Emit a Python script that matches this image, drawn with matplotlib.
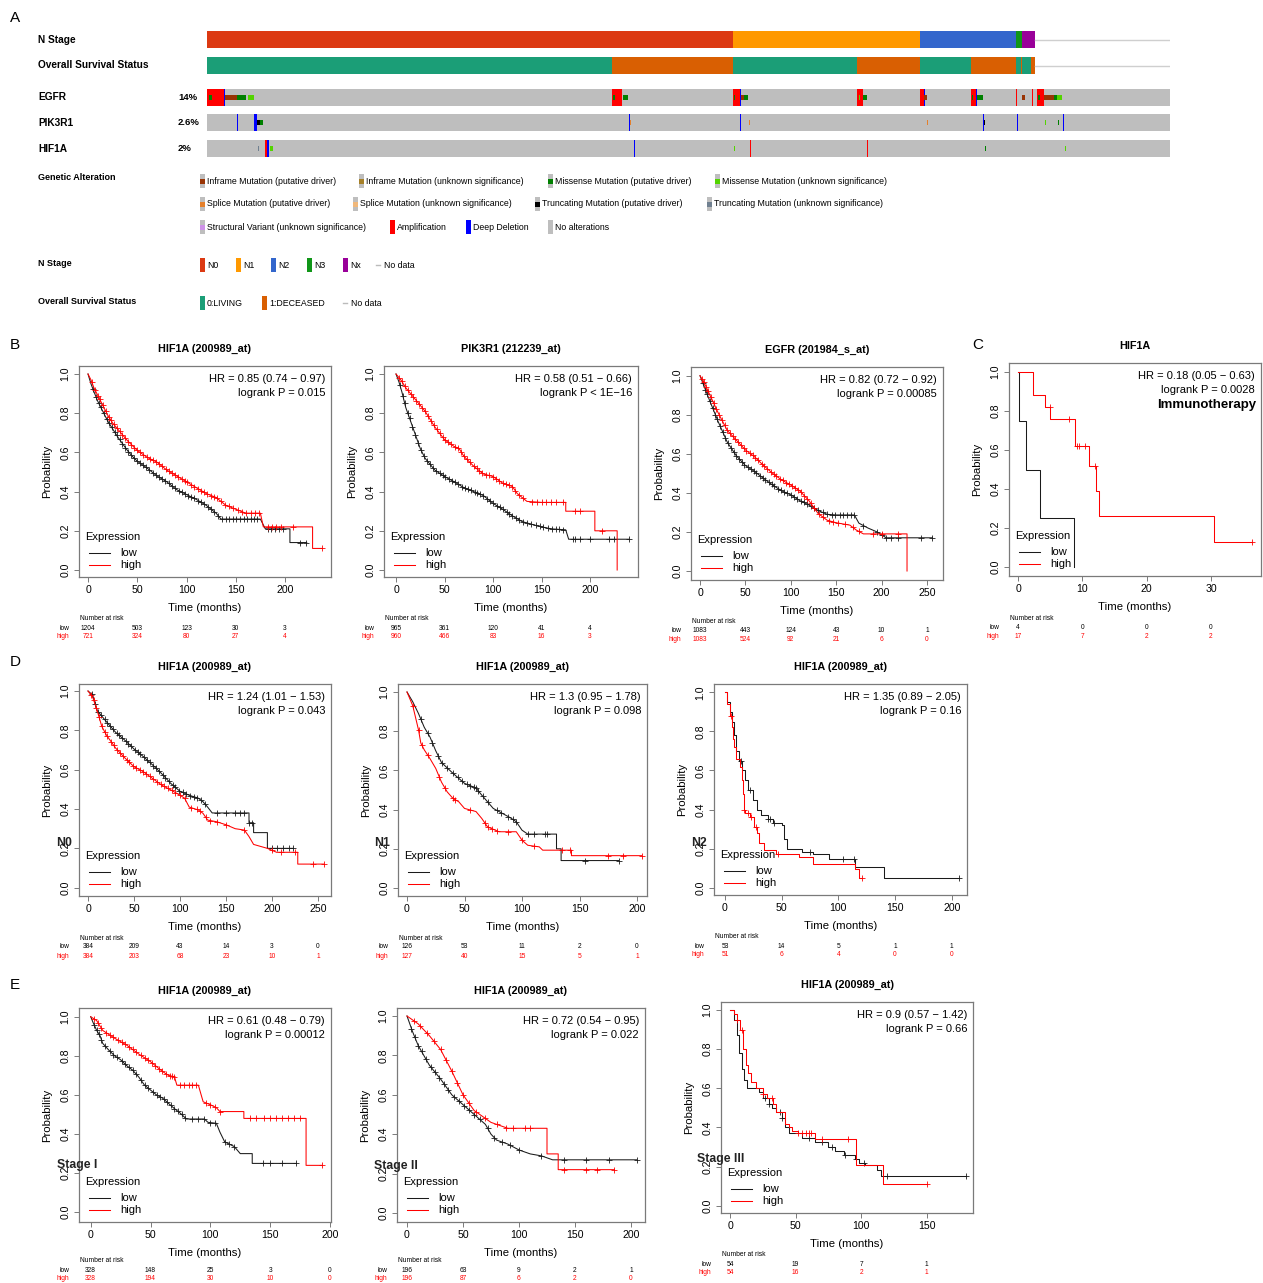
import numpy as np
import matplotlib
matplotlib.use("Agg")
import matplotlib.pyplot as plt
import matplotlib.transforms as mtransforms
from matplotlib.patches import Rectangle

plt.rcParams["font.family"] = ["Liberation Sans", "DejaVu Sans"]

W, H = 1263, 1283

# ---------------- panel A: oncoprint data ----------------
n_samples = 963
n_stage_labels = ["N0", "N1", "N2", "N3", "Nx"]
n_stage_counts = [526, 187, 96, 6, 13]
n_stage_colors = ["#dc3912", "#ff9900", "#3366cc", "#109618", "#990099"]

os_labels = ["0:LIVING", "1:DECEASED"]
os_colors = ["#1b9e77", "#d95f02"]
os_runs = [0, 1, 0, 1, 0, 1, 0, 1, 0, 1]
os_run_counts = [405, 121, 124, 63, 51, 45, 5, 1, 9, 4]

genes = ["EGFR", "PIK3R1", "HIF1A"]
gene_pct = ["14%", "2.6%", "2%"]
# (first sample column, number of columns)
amp_cols = {
    "EGFR": [(0, 17), (405, 10), (526, 7), (650, 6), (713, 4), (764, 5), (809, 1), (825, 1), (830, 7)],
    "PIK3R1": [],
    "HIF1A": [(58, 2), (543, 1), (660, 1)],
}
del_cols = {
    "EGFR": [(17, 1), (533, 1), (717, 1), (769, 1)],
    "PIK3R1": [(30, 1), (47, 3), (422, 1), (533, 1), (776, 1), (810, 1), (856, 1)],
    "HIF1A": [(60, 2), (427, 1)],
}
mut_cols = {
    "EGFR": [(2, 3, "mis_d"), (18, 12, "inf_d"), (30, 9, "mis_d"), (41, 6, "mis_u"),
             (406, 2, "mis_d"), (416, 5, "mis_d"), (527, 1, "mis_d"), (534, 3, "inf_d"),
             (537, 4, "mis_d"), (652, 1, "mis_u"), (656, 4, "mis_d"), (717, 3, "inf_d"),
             (765, 1, "mis_d"), (770, 6, "mis_d"), (815, 3, "inf_d"), (831, 2, "mis_d"),
             (837, 10, "inf_d"), (847, 3, "mis_d"), (850, 5, "mis_u")],
    "PIK3R1": [(50, 3, "trc_d"), (53, 3, "mis_d"), (423, 1, "spl_d"), (542, 1, "spl_d"),
               (720, 1, "spl_d"), (777, 1, "trc_d"), (838, 1, "mis_u"), (851, 1, "mis_d")],
    "HIF1A": [(51, 1, "trc_u"), (63, 3, "mis_u"), (527, 1, "mis_u"), (778, 1, "mis_d"), (858, 1, "mis_u")],
}
alt_colors = {"inf_d": "#993404", "inf_u": "#a68028", "mis_d": "#008000", "mis_u": "#53d400",
              "spl_d": "#e5802b", "spl_u": "#f0b87b", "trc_d": "#000000", "trc_u": "#708090",
              "sv": "#ce92e8", "amp": "#ff0000", "del": "#0000ff", "none": "#bebebe"}

ga_legend = [
    [("inf_d", "Inframe Mutation (putative driver)"), ("inf_u", "Inframe Mutation (unknown significance)"),
     ("mis_d", "Missense Mutation (putative driver)"), ("mis_u", "Missense Mutation (unknown significance)")],
    [("spl_d", "Splice Mutation (putative driver)"), ("spl_u", "Splice Mutation (unknown significance)"),
     ("trc_d", "Truncating Mutation (putative driver)"), ("trc_u", "Truncating Mutation (unknown significance)")],
    [("sv", "Structural Variant (unknown significance)"), ("amp", "Amplification"),
     ("del", "Deep Deletion"), ("none", "No alterations")],
]

# ---------------- KM data (time in months, survival probability) ----------------
b1_low_t = [0, 3, 6, 10, 15, 20, 25, 30, 35, 40, 45, 50, 60, 70, 80, 90, 100, 110, 120, 130, 135, 175, 177, 180, 205, 205, 222]
b1_low_s = [1, 0.95, 0.91, 0.86, 0.81, 0.76, 0.72, 0.68, 0.645, 0.61, 0.58, 0.555, 0.52, 0.48, 0.45, 0.41, 0.385, 0.36, 0.33, 0.29, 0.26, 0.26, 0.24, 0.21, 0.21, 0.14, 0.14]
b1_low_c = [5, 8, 11, 13, 16, 19, 21, 24, 27, 29, 32, 35, 38, 41, 44, 47, 50, 53, 56, 59, 62, 66, 69, 72, 75, 78,
            82, 85, 88, 92, 95, 98, 102, 105, 108, 112, 115, 118, 122, 125, 128, 132, 136, 140, 143, 147, 150,
            154, 158, 161, 165, 169, 172, 183, 186, 190, 194, 198, 215, 221]
b1_high_t = [0, 3, 6, 10, 15, 20, 25, 30, 40, 50, 60, 70, 80, 90, 100, 110, 120, 130, 140, 150, 160, 175, 178, 228, 228, 238]
b1_high_s = [1, 0.97, 0.93, 0.89, 0.84, 0.79, 0.75, 0.72, 0.66, 0.61, 0.575, 0.55, 0.51, 0.48, 0.45, 0.42, 0.39, 0.37, 0.33, 0.31, 0.29, 0.29, 0.22, 0.22, 0.11, 0.11]
b1_high_c = [4, 7, 10, 12, 15, 18, 21, 23, 26, 29, 32, 35, 38, 41, 44, 47, 50, 53, 56, 60, 63, 66, 69, 72, 75,
             79, 82, 85, 88, 91, 95, 98, 101, 105, 108, 112, 115, 118, 121, 125, 128, 131, 135, 139, 143, 147,
             152, 156, 160, 165, 170, 174, 183, 187, 191, 196, 208, 238]

b2_low_t = [0, 3, 6, 10, 15, 20, 25, 30, 40, 50, 60, 70, 80, 90, 100, 110, 120, 130, 140, 150, 160, 175, 178, 240]
b2_low_s = [1, 0.96, 0.91, 0.83, 0.76, 0.69, 0.62, 0.57, 0.51, 0.477, 0.45, 0.42, 0.40, 0.38, 0.34, 0.31, 0.276, 0.247, 0.233, 0.22, 0.21, 0.205, 0.157, 0.157]
b2_low_c = [4, 7, 9, 12, 14, 17, 20, 23, 26, 29, 32, 35, 38, 41, 45, 48, 51, 55, 58, 61, 64, 68, 71, 74, 77, 81,
            84, 87, 90, 94, 97, 100, 104, 107, 110, 114, 117, 120, 124, 127, 131, 135, 139, 144, 148, 152, 157,
            161, 165, 168, 172, 182, 185, 190, 200, 220, 225, 240]
b2_high_t = [0, 5, 10, 20, 30, 40, 50, 60, 65, 70, 80, 90, 100, 110, 120, 125, 135, 150, 175, 175, 205, 205, 228, 228]
b2_high_s = [1, 0.97, 0.93, 0.87, 0.81, 0.73, 0.665, 0.63, 0.62, 0.58, 0.53, 0.49, 0.477, 0.443, 0.426, 0.39, 0.35, 0.345, 0.345, 0.30, 0.30, 0.20, 0.20, 0.0]
b2_high_c = [3, 6, 9, 12, 15, 18, 21, 24, 27, 30, 33, 36, 39, 42, 45, 48, 51, 54, 57, 61, 64, 67, 70, 73, 76, 80,
             83, 86, 89, 93, 96, 100, 103, 106, 110, 113, 116, 120, 123, 127, 131, 140, 145, 150, 155, 160, 165,
             172, 185, 190, 212]

b3_low_t = [0, 5, 10, 20, 30, 40, 50, 60, 70, 80, 90, 100, 110, 120, 130, 140, 150, 170, 175, 185, 195, 205, 256]
b3_low_s = [1, 0.94, 0.88, 0.765, 0.66, 0.59, 0.54, 0.51, 0.474, 0.44, 0.41, 0.39, 0.36, 0.338, 0.31, 0.29, 0.287, 0.287, 0.245, 0.22, 0.20, 0.17, 0.17]
b3_low_c = [3, 6, 8, 11, 14, 17, 19, 22, 25, 28, 31, 34, 37, 40, 43, 46, 49, 53, 56, 59, 62, 66, 69, 72, 76, 79,
            82, 86, 89, 93, 96, 100, 103, 107, 111, 114, 118, 122, 126, 130, 135, 140, 145, 149, 154, 158, 162,
            166, 170, 180, 195, 200, 205, 210, 218, 243, 256]
b3_high_t = [0, 5, 10, 20, 30, 40, 50, 60, 70, 80, 90, 100, 110, 120, 130, 140, 150, 165, 172, 180, 228, 228]
b3_high_s = [1, 0.96, 0.91, 0.81, 0.72, 0.67, 0.62, 0.585, 0.54, 0.50, 0.466, 0.44, 0.41, 0.36, 0.295, 0.26, 0.247, 0.235, 0.21, 0.19, 0.19, 0.0]
b3_high_c = [2, 4, 7, 9, 12, 15, 18, 21, 24, 27, 30, 33, 36, 39, 42, 45, 48, 51, 55, 58, 61, 64, 68, 71, 74, 78,
             81, 84, 88, 91, 95, 98, 101, 105, 108, 111, 115, 118, 122, 126, 131, 136, 142, 147, 152, 160, 168,
             175, 190, 200, 218]

c_low_t = [0, 0.2, 1.3, 3.4, 8.7]
c_low_s = [1, 0.75, 0.5, 0.25, 0.0]
c_low_c = []
c_high_t = [0, 2.3, 4.2, 5.0, 8.8, 11.0, 12.2, 12.6, 30.5, 36.3]
c_high_s = [1, 0.88, 0.82, 0.76, 0.62, 0.52, 0.39, 0.26, 0.13, 0.13]
c_high_c = [4.9, 7.9, 9.2, 9.5, 10.4, 12.0, 36.3]

d1_low_t = [0, 5, 10, 20, 30, 40, 50, 60, 70, 80, 90, 100, 110, 120, 125, 130, 135, 175, 175, 180, 180, 195, 195, 223]
d1_low_s = [1, 0.98, 0.90, 0.844, 0.79, 0.75, 0.705, 0.667, 0.625, 0.58, 0.53, 0.49, 0.47, 0.455, 0.437, 0.41, 0.38, 0.38, 0.33, 0.33, 0.28, 0.28, 0.20, 0.20]
d1_low_c = [4, 8, 11, 14, 18, 21, 24, 27, 31, 34, 37, 41, 44, 47, 51, 54, 57, 61, 64, 67, 71, 74, 77, 81, 84, 88,
            92, 95, 99, 103, 107, 111, 115, 119, 123, 127, 140, 150, 160, 165, 170, 175, 178, 200, 205, 212, 218, 223]
d1_high_t = [0, 5, 10, 15, 20, 30, 40, 50, 60, 70, 80, 90, 100, 105, 110, 120, 125, 130, 140, 150, 160, 170, 175, 180, 195, 205, 228, 228, 256]
d1_high_s = [1, 0.97, 0.90, 0.82, 0.776, 0.71, 0.66, 0.615, 0.59, 0.556, 0.522, 0.497, 0.47, 0.455, 0.41, 0.395, 0.378, 0.344, 0.335, 0.32, 0.30, 0.293, 0.26, 0.22, 0.20, 0.18, 0.18, 0.12, 0.12]
d1_high_c = [3, 6, 9, 12, 15, 18, 21, 25, 28, 32, 35, 38, 42, 45, 49, 52, 56, 60, 63, 67, 71, 75, 79, 83, 87, 91,
             95, 100, 105, 112, 118, 122, 128, 133, 140, 150, 170, 200, 210, 225, 245, 256]

d2_low_t = [0, 5, 10, 15, 20, 25, 30, 40, 50, 60, 65, 70, 75, 80, 90, 95, 100, 105, 130, 130, 134, 134, 184]
d2_low_s = [1, 0.95, 0.89, 0.82, 0.77, 0.70, 0.64, 0.585, 0.534, 0.51, 0.474, 0.44, 0.406, 0.39, 0.358, 0.338, 0.295, 0.275, 0.275, 0.2, 0.2, 0.14, 0.14]
d2_low_c = [12, 18, 22, 27, 30, 35, 40, 44, 48, 52, 55, 58, 60, 62, 66, 70, 78, 82, 88, 92, 95, 105, 110, 120, 122, 155, 184]
d2_high_t = [0, 5, 10, 12, 15, 20, 25, 30, 35, 40, 45, 50, 60, 65, 70, 80, 95, 100, 105, 115, 118, 143, 143, 204]
d2_high_s = [1, 0.93, 0.807, 0.74, 0.705, 0.66, 0.61, 0.54, 0.49, 0.457, 0.44, 0.406, 0.39, 0.355, 0.312, 0.287, 0.287, 0.244, 0.218, 0.21, 0.193, 0.193, 0.165, 0.165]
d2_high_c = [5, 10, 13, 18, 28, 33, 40, 42, 55, 68, 70, 74, 78, 88, 100, 110, 135, 142, 175, 188, 204]

d3_low_t = [0, 2, 4, 6, 8, 10, 12, 15, 18, 20, 25, 28, 32, 38, 42, 50, 52, 55, 68, 78, 92, 115, 140, 206]
d3_low_s = [1, 0.95, 0.90, 0.85, 0.78, 0.70, 0.65, 0.60, 0.55, 0.50, 0.45, 0.40, 0.37, 0.35, 0.33, 0.32, 0.25, 0.20, 0.185, 0.17, 0.145, 0.105, 0.05, 0.05]
d3_low_c = [14, 22, 38, 40, 43, 75, 104, 114, 206]
d3_high_t = [0, 2, 4, 6, 7, 8, 10, 13, 15, 16, 17, 18, 22, 26, 28, 30, 34, 45, 65, 78, 115, 118, 121]
d3_high_s = [1, 0.94, 0.88, 0.82, 0.76, 0.72, 0.66, 0.62, 0.55, 0.48, 0.40, 0.38, 0.36, 0.31, 0.28, 0.23, 0.195, 0.175, 0.155, 0.12, 0.095, 0.05, 0.05]
d3_high_c = [5, 17, 20, 23, 27, 47, 121]

e1_low_t = [0, 2, 5, 8, 10, 15, 20, 25, 30, 35, 40, 45, 50, 55, 60, 65, 70, 75, 80, 95, 98, 105, 108, 112, 120, 125, 135, 135, 172]
e1_low_s = [1, 0.97, 0.93, 0.90, 0.864, 0.83, 0.80, 0.78, 0.75, 0.727, 0.693, 0.65, 0.625, 0.60, 0.584, 0.557, 0.53, 0.506, 0.477, 0.477, 0.46, 0.455, 0.41, 0.36, 0.336, 0.30, 0.30, 0.25, 0.25]
e1_low_c = [3, 5, 7, 9, 12, 16, 19, 22, 26, 29, 32, 35, 38, 42, 45, 48, 52, 55, 58, 61, 64, 67, 70, 73, 76, 79,
            85, 90, 95, 100, 104, 112, 116, 120, 144, 150, 160, 172]
e1_high_t = [0, 5, 10, 20, 30, 40, 50, 55, 60, 65, 70, 72, 90, 92, 94, 100, 105, 108, 128, 128, 180, 180, 193]
e1_high_s = [1, 0.98, 0.93, 0.89, 0.855, 0.81, 0.77, 0.745, 0.72, 0.70, 0.693, 0.65, 0.65, 0.607, 0.565, 0.55, 0.535, 0.515, 0.515, 0.48, 0.48, 0.24, 0.24]
e1_high_c = [3, 6, 9, 13, 16, 19, 23, 26, 29, 32, 35, 38, 42, 45, 48, 51, 54, 57, 60, 63, 66, 68, 70, 75, 78,
             82, 85, 88, 96, 100, 104, 108, 133, 138, 145, 150, 155, 160, 165, 170, 175, 193]

e2_low_t = [0, 5, 10, 15, 20, 30, 40, 50, 60, 70, 75, 80, 90, 100, 110, 120, 130, 205]
e2_low_s = [1, 0.92, 0.85, 0.80, 0.75, 0.68, 0.60, 0.55, 0.50, 0.45, 0.40, 0.37, 0.35, 0.32, 0.30, 0.29, 0.27, 0.27]
e2_low_c = [4, 7, 10, 13, 17, 21, 25, 29, 33, 37, 42, 46, 51, 55, 60, 65, 72, 78, 85, 92, 100, 120, 140, 160, 180, 205]
e2_high_t = [0, 5, 10, 20, 30, 40, 50, 60, 70, 75, 90, 100, 125, 125, 135, 135, 185]
e2_high_s = [1, 0.98, 0.96, 0.90, 0.83, 0.72, 0.60, 0.52, 0.48, 0.46, 0.43, 0.43, 0.43, 0.30, 0.30, 0.22, 0.22]
e2_high_c = [6, 12, 18, 24, 30, 35, 40, 45, 50, 55, 62, 70, 80, 88, 95, 105, 110, 140, 160, 170, 185]

e3_low_t = [0, 3, 5, 7, 9, 11, 13, 22, 25, 30, 32, 35, 40, 42, 45, 55, 65, 75, 80, 87, 95, 98, 103, 112, 115, 180]
e3_low_s = [1, 0.95, 0.87, 0.78, 0.70, 0.64, 0.60, 0.58, 0.55, 0.52, 0.50, 0.48, 0.45, 0.40, 0.37, 0.345, 0.325, 0.30, 0.28, 0.26, 0.24, 0.22, 0.21, 0.18, 0.15, 0.15]
e3_low_c = [27, 30, 38, 40, 60, 70, 78, 88, 96, 102, 120, 180]
e3_high_t = [0, 3, 5, 8, 10, 12, 14, 16, 20, 25, 28, 33, 35, 42, 45, 47, 52, 65, 96, 117, 150]
e3_high_s = [1, 0.98, 0.95, 0.90, 0.80, 0.72, 0.68, 0.63, 0.60, 0.57, 0.55, 0.52, 0.48, 0.42, 0.40, 0.38, 0.37, 0.34, 0.21, 0.11, 0.11]
e3_high_c = [5, 9, 25, 32, 52, 55, 58, 60, 62, 70, 90, 150]

panels = [
    dict(letter=("B", 10, 345), box=(79, 366, 331, 577), xmap=((0, 88), (200, 285)), ymap=(570, 374),
         xticks=[0, 50, 100, 150, 200], title="HIF1A (200989_at)",
         hr=["HR = 0.85 (0.74 \u2212 0.97)", "logrank P = 0.015"],
         low=(b1_low_t, b1_low_s, b1_low_c), high=(b1_high_t, b1_high_s, b1_high_c), step=False,
         risk_low=[1204, 503, 123, 30, 3], risk_high=[721, 324, 80, 27, 4]),
    dict(box=(384, 366, 638, 577), xmap=((0, 396), (200, 590)), ymap=(570, 374),
         xticks=[0, 50, 100, 150, 200], title="PIK3R1 (212239_at)",
         hr=["HR = 0.58 (0.51 \u2212 0.66)", "logrank P < 1E\u221216"],
         low=(b2_low_t, b2_low_s, b2_low_c), high=(b2_high_t, b2_high_s, b2_high_c), step=False,
         risk_low=[965, 361, 120, 41, 4], risk_high=[960, 466, 83, 16, 3]),
    dict(box=(691, 367, 943, 580), xmap=((0, 700), (250, 927)), ymap=(571, 375.7),
         xticks=[0, 50, 100, 150, 200, 250], title="EGFR (201984_s_at)",
         hr=["HR = 0.82 (0.72 \u2212 0.92)", "logrank P = 0.00085"],
         low=(b3_low_t, b3_low_s, b3_low_c), high=(b3_high_t, b3_high_s, b3_high_c), step=False,
         risk_low=[1083, 443, 124, 43, 10, 1], risk_high=[1083, 524, 92, 21, 6, 0]),
    dict(letter=("C", 972, 345), box=(1009, 363, 1261, 576), xmap=((0, 1018), (30, 1211)), ymap=(567.3, 371.7),
         xticks=[0, 10, 20, 30], title="HIF1A",
         hr=["HR = 0.18 (0.05 \u2212 0.63)", "logrank P = 0.0028"], extra="Immunotherapy",
         low=(c_low_t, c_low_s, c_low_c), high=(c_high_t, c_high_s, c_high_c), step=True,
         risk_low=[4, 0, 0, 0], risk_high=[17, 7, 2, 2]),
    dict(letter=("D", 10, 662), box=(79, 684, 331, 896), xmap=((0, 88), (250, 318)), ymap=(887.7, 691),
         xticks=[0, 50, 100, 150, 200, 250], title="HIF1A (200989_at)",
         hr=["HR = 1.24 (1.01 \u2212 1.53)", "logrank P = 0.043"], overlay=("N0", 56, 843),
         low=(d1_low_t, d1_low_s, d1_low_c), high=(d1_high_t, d1_high_s, d1_high_c), step=False,
         risk_low=[384, 209, 43, 14, 3, 0], risk_high=[384, 203, 68, 23, 10, 1]),
    dict(box=(398, 684, 647, 896), xmap=((0, 407), (200, 637)), ymap=(888, 692),
         xticks=[0, 50, 100, 150, 200], title="HIF1A (200989_at)",
         hr=["HR = 1.3 (0.95 \u2212 1.78)", "logrank P = 0.098"], overlay=("N1", 374, 843),
         low=(d2_low_t, d2_low_s, d2_low_c), high=(d2_high_t, d2_high_s, d2_high_c), step=False,
         risk_low=[126, 53, 11, 2, 0], risk_high=[127, 40, 15, 5, 1]),
    dict(box=(714, 684, 967, 895), xmap=((0, 725), (200, 951.7)), ymap=(887.7, 692.3),
         xticks=[0, 50, 100, 150, 200], title="HIF1A (200989_at)",
         hr=["HR = 1.35 (0.89 \u2212 2.05)", "logrank P = 0.16"], overlay=("N2", 691, 843),
         low=(d3_low_t, d3_low_s, d3_low_c), high=(d3_high_t, d3_high_s, d3_high_c), step=True,
         risk_low=[53, 14, 5, 1, 1], risk_high=[51, 6, 4, 0, 0]),
    dict(letter=("E", 10, 985), box=(79, 1008, 331, 1222), xmap=((0, 90.7), (200, 330)), ymap=(1212.3, 1016.7),
         xticks=[0, 50, 100, 150, 200], title="HIF1A (200989_at)",
         hr=["HR = 0.61 (0.48 \u2212 0.79)", "logrank P = 0.00012"], overlay=("Stage I", 57, 1165),
         low=(e1_low_t, e1_low_s, e1_low_c), high=(e1_high_t, e1_high_s, e1_high_c), step=False,
         risk_low=[328, 148, 25, 3, 0], risk_high=[328, 194, 30, 10, 0], risk_off=(39, 48, 57)),
    dict(box=(397, 1008, 645, 1222), xmap=((0, 407), (200, 631)), ymap=(1213, 1016),
         xticks=[0, 50, 100, 150, 200], title="HIF1A (200989_at)",
         hr=["HR = 0.72 (0.54 \u2212 0.95)", "logrank P = 0.022"], overlay=("Stage II", 374, 1166),
         low=(e2_low_t, e2_low_s, e2_low_c), high=(e2_high_t, e2_high_s, e2_high_c), step=False,
         risk_low=[196, 63, 9, 2, 1], risk_high=[196, 87, 6, 2, 0], risk_off=(39, 48, 57)),
    dict(box=(721, 1002, 973, 1213), xmap=((0, 730), (150, 926.7)), ymap=(1205.7, 1010),
         xticks=[0, 50, 100, 150], title="HIF1A (200989_at)",
         hr=["HR = 0.9 (0.57 \u2212 1.42)", "logrank P = 0.66"], overlay=("Stage III", 697, 1159),
         low=(e3_low_t, e3_low_s, e3_low_c), high=(e3_high_t, e3_high_s, e3_high_c), step=True,
         risk_low=[54, 19, 7, 1], risk_high=[54, 16, 2, 1]),
]

LOW_COL, HIGH_COL, FRAME = "#1a1a1a", "#ff0000", "#7a7a7a"

fig = plt.figure(figsize=(W / 100, H / 100), dpi=100)

# overlay axes in pixel coordinates for panel-A labels/legends and free text
axP = fig.add_axes([0, 0, 1, 1], zorder=5)
axP.set_xlim(0, W)
axP.set_ylim(H, 0)
axP.axis("off")
axP.patch.set_alpha(0)

# ---------------- panel A ----------------
axA = fig.add_axes([207 / W, 1 - 160 / H, n_samples / W, (160 - 28) / H])
axA.set_xlim(0, n_samples)
axA.set_ylim(160, 28)
axA.axis("off")

TR_H = 17
clin_tops = [31, 57]
gene_tops = [89, 114, 140]

x0 = 0
for cnt, col in zip(n_stage_counts, n_stage_colors):
    axA.broken_barh([(x0, cnt)], (clin_tops[0], TR_H), color=col, lw=0)
    x0 += cnt
n_with_data = x0
axA.plot([n_with_data, n_samples], [clin_tops[0] + TR_H / 2] * 2, color="#cfcfcf", lw=1)
x0 = 0
for run, cnt in zip(os_runs, os_run_counts):
    axA.broken_barh([(x0, cnt)], (clin_tops[1], TR_H), color=os_colors[run], lw=0)
    x0 += cnt
axA.plot([x0, n_samples], [clin_tops[1] + TR_H / 2] * 2, color="#cfcfcf", lw=1)

for g, top in zip(genes, gene_tops):
    axA.broken_barh([(0, n_samples)], (top, TR_H), color=alt_colors["none"], lw=0)
    axA.broken_barh(amp_cols[g], (top, TR_H), color=alt_colors["amp"], lw=0)
    axA.broken_barh(del_cols[g], (top, TR_H), color=alt_colors["del"], lw=0)
    for s0, wd, kind in mut_cols[g]:
        axA.broken_barh([(s0, wd)], (top + TR_H / 3, TR_H / 3), color=alt_colors[kind], lw=0)

axP.text(10, 18, "A", fontsize=11, va="center")
lab_kw = dict(fontsize=7.3, fontweight="bold", va="center")
axP.text(38, 40, "N Stage", **lab_kw)
axP.text(38, 65, "Overall Survival Status", **lab_kw)
for g, pct, top in zip(genes, gene_pct, gene_tops):
    axP.text(38, top + 8.5, g, **lab_kw)
    axP.text(178, top + 8.5, pct, fontsize=6.8, fontweight="bold", va="center")

# genetic alteration legend
axP.text(38, 178, "Genetic Alteration", fontsize=6.5, fontweight="bold", va="center")
ga_rows_y = [181, 204, 227]
ga_marker_x = [[200, 359, 548, 715], [200, 353, 535, 707], [200, 390, 466, 548]]
for row, ry, xs in zip(ga_legend, ga_rows_y, ga_marker_x):
    for (kind, text), mx in zip(row, xs):
        if kind in ("amp", "del", "none"):
            axP.add_patch(Rectangle((mx, ry - 7), 4.5, 14, color=alt_colors[kind], lw=0))
        else:
            axP.add_patch(Rectangle((mx, ry - 7), 4.5, 14, color=alt_colors["none"], lw=0))
            axP.add_patch(Rectangle((mx, ry - 2.5), 4.5, 5, color=alt_colors[kind], lw=0))
        axP.text(mx + 7, ry, text, fontsize=6.3, va="center")

axP.text(38, 263, "N Stage", fontsize=6.5, fontweight="bold", va="center")
for lbl, col, mx in zip(n_stage_labels, n_stage_colors, [200, 236, 271, 307, 343]):
    axP.add_patch(Rectangle((mx, 258), 4.5, 14, color=col, lw=0))
    axP.text(mx + 7, 265, lbl, fontsize=6.3, va="center")
axP.plot([376, 380], [265, 265], color="#bbbbbb", lw=1)
axP.text(384, 265, "No data", fontsize=6.3, va="center")

axP.text(38, 301, "Overall Survival Status", fontsize=6.5, fontweight="bold", va="center")
for lbl, col, mx in zip(os_labels, os_colors, [200, 262]):
    axP.add_patch(Rectangle((mx, 296), 4.5, 14, color=col, lw=0))
    axP.text(mx + 7, 303, lbl, fontsize=6.3, va="center")
axP.plot([343, 347], [303, 303], color="#bbbbbb", lw=1)
axP.text(351, 303, "No data", fontsize=6.3, va="center")


# ---------------- KM panels ----------------
def curve_values(tt, ss, cc, step):
    if len(cc) == 0:
        return np.array([]), np.array([])
    cc = np.asarray(cc, float)
    if step:
        idx = np.searchsorted(tt, cc, side="right") - 1
        return cc, np.asarray(ss)[idx]
    return cc, np.interp(cc, tt, ss)


for p in panels:
    l, t, r, b = p["box"]
    w, h = r - l, b - t
    ax = fig.add_axes([l / W, 1 - b / H, w / W, h / H])
    (v0, p0), (v1, p1) = p["xmap"]
    sx = (p1 - p0) / (v1 - v0)
    ax.set_xlim(v0 + (l - p0) / sx, v0 + (r - p0) / sx)
    py0, py1 = p["ymap"]
    sy = py0 - py1
    ax.set_ylim((py0 - b) / sy, (py0 - t) / sy)

    for (tt, ss, cc), col in ((p["low"], LOW_COL), (p["high"], HIGH_COL)):
        ax.plot(tt, ss, color=col, lw=0.75, drawstyle="steps-post" if p["step"] else "default")
        cx, cy = curve_values(tt, ss, cc, p["step"])
        ax.plot(cx, cy, ls="none", marker="+", ms=4.5, mew=0.6, color=col)

    for sp in ax.spines.values():
        sp.set_color(FRAME)
        sp.set_linewidth(0.9)
    ax.set_xticks(p["xticks"])
    ax.set_yticks([0, 0.2, 0.4, 0.6, 0.8, 1.0])
    ax.set_yticklabels(["0.0", "0.2", "0.4", "0.6", "0.8", "1.0"])
    ax.tick_params(direction="out", length=3.5, width=0.7, color=FRAME, labelsize=7.6, pad=2.5)
    for lab in ax.get_yticklabels():
        lab.set_rotation(90)
        lab.set_va("center")
    ax.set_xlabel("Time (months)", fontsize=8.2)
    ax.xaxis.set_label_coords(0.5, -31 / h)
    ax.xaxis.label.set_va("center")
    ax.set_ylabel("Probability", fontsize=8.2)
    ax.yaxis.set_label_coords(-32 / w, 0.5)
    ax.yaxis.label.set_va("center")

    ax.text(0.5, 1 + 17 / h, p["title"], transform=ax.transAxes, ha="center", va="center",
            fontsize=7.8, fontweight="bold")
    ax.text(1 - 6 / w, 1 - 13 / h, p["hr"][0], transform=ax.transAxes, ha="right", va="center", fontsize=8)
    ax.text(1 - 6 / w, 1 - 27 / h, p["hr"][1], transform=ax.transAxes, ha="right", va="center", fontsize=8)
    if "extra" in p:
        ax.text(1 - 5 / w, 1 - 42 / h, p["extra"], transform=ax.transAxes, ha="right", va="center",
                fontsize=9.5, fontweight="bold")

    # legend
    ax.text(6 / w, 40 / h, "Expression", transform=ax.transAxes, va="center", fontsize=8)
    for yy, col, lbl in ((24, LOW_COL, "low"), (12, HIGH_COL, "high")):
        ax.plot([10 / w, 31 / w], [yy / h, yy / h], transform=ax.transAxes, color=col, lw=0.75)
        ax.text(41 / w, yy / h, lbl, transform=ax.transAxes, va="center", fontsize=8)

    # number at risk table
    o_head, o_low, o_high = p.get("risk_off", (42, 51, 60))
    tr = mtransforms.blended_transform_factory(ax.transData, ax.transAxes)
    ax.text(1 / w, -o_head / h, "Number at risk", transform=ax.transAxes, va="center", fontsize=4.8,
            clip_on=False)
    for off, vals, col, lbl in ((o_low, p["risk_low"], "black", "low"), (o_high, p["risk_high"], HIGH_COL, "high")):
        ax.text(-10 / w, -off / h, lbl, transform=ax.transAxes, ha="right", va="center", fontsize=4.8,
                color=col, clip_on=False)
        for xv, v in zip(p["xticks"], vals):
            ax.text(xv, -off / h, str(v), transform=tr, ha="center", va="center", fontsize=4.8,
                    color=col, clip_on=False)

    if "letter" in p:
        lt, lx, ly = p["letter"]
        axP.text(lx, ly, lt, fontsize=11, va="center")
    if "overlay" in p:
        ot, ox, oy = p["overlay"]
        axP.text(ox, oy, ot, fontsize=8.8, fontweight="bold", va="center", color="#222222")

fig.savefig("out.png", dpi=100)
